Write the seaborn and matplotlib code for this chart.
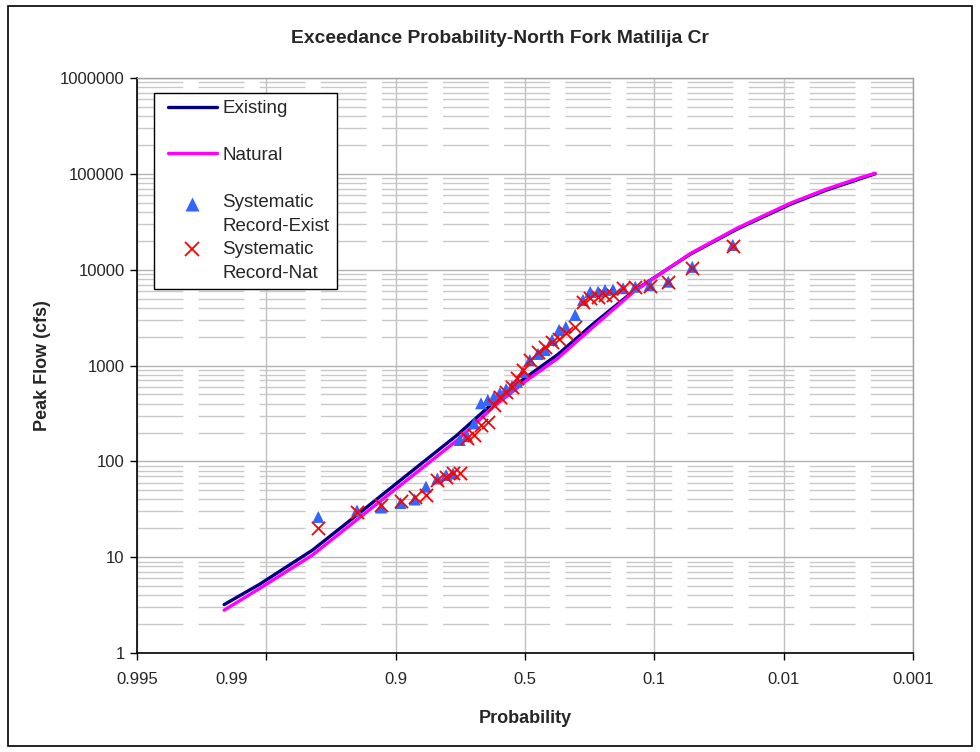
import numpy as np
import pandas as pd
import matplotlib
matplotlib.use('Agg')
import matplotlib.pyplot as plt
import seaborn as sns
from matplotlib.ticker import FixedLocator, FixedFormatter, NullFormatter, LogLocator
from matplotlib.lines import Line2D
from matplotlib.patches import Rectangle
from matplotlib.legend_handler import HandlerLine2D
from matplotlib.transforms import Affine2D
from statistics import NormalDist

# frequency curves (exceedance probability vs peak flow, cfs)
curve_prob = [0.99, 0.98, 0.95, 0.9, 0.8, 0.7, 0.6, 0.5, 0.4, 0.3, 0.2, 0.1,
              0.05, 0.02, 0.01, 0.005, 0.0034]
existing_flow = [3.2, 5.2, 11.8, 28.8, 85.8, 188, 400, 740, 1300, 2700, 6000,
                 14600, 26700, 48200, 67300, 87300, 100000]
natural_flow = [2.8, 4.7, 10.5, 25.7, 76, 166, 360, 680, 1190, 2510, 5900,
                14800, 27300, 49500, 69000, 89500, 101500]

# systematic record, plotting positions
point_prob = [0.945, 0.903, 0.867, 0.832, 0.803, 0.778, 0.751, 0.729, 0.711, 0.693,
              0.673, 0.653, 0.633, 0.613, 0.595, 0.577, 0.558, 0.540, 0.525, 0.506,
              0.485, 0.460, 0.439, 0.417, 0.396, 0.376, 0.349, 0.327, 0.307, 0.286,
              0.268, 0.248, 0.224, 0.197, 0.167, 0.134, 0.098, 0.054]
exist_obs = [26.3, 30.7, 33.0, 36.7, 40.0, 54.4, 66.2, 72.0, 74.6, 167,
             184, 249, 403, 437, 469, 516, 568, 611, 673, 855,
             1140, 1320, 1450, 1850, 2350, 2520, 3370, 4830, 5860, 5890,
             6140, 6210, 6400, 6640, 6920, 7490, 10700, 18100]
nat_obs = [20.4, 29.8, 35.0, 39.0, 42.7, 44.6, 63.9, 69.2, 75.0, 75.5,
           174, 188, 239, 259, 387, 469, 529, 601, 735, 897,
           1140, 1390, 1570, 1770, 1900, 2190, 2540, 4630, 5030, 5220,
           5440, 5500, 6400, 6640, 6700, 7490, 10300, 17700]

x_tick_labels = ['0.995', '0.99', '0.9', '0.5', '0.1', '0.01', '0.001']
y_tick_labels = ['1', '10', '100', '1000', '10000', '100000', '1000000']

sns.set_style('white')
plt.rcParams['font.family'] = ['Liberation Sans', 'DejaVu Sans']

nd = NormalDist()


def fwd(p):
    p = np.clip(np.asarray(p, dtype=float), 1e-12, 1 - 1e-12)
    return np.vectorize(nd.inv_cdf, otypes=[float])(p)


def inv(z):
    return np.vectorize(nd.cdf, otypes=[float])(np.asarray(z, dtype=float))


class ShiftedHandler(HandlerLine2D):
    # legend handle nudged to sit next to the first text line
    def __init__(self, dx, dy, **kw):
        super().__init__(**kw)
        self.dx, self.dy = dx, dy

    def create_artists(self, legend, orig_handle, xdescent, ydescent, width, height, fontsize, trans):
        arts = super().create_artists(legend, orig_handle, xdescent, ydescent, width, height, fontsize, trans)
        for a in arts:
            a.set_transform(trans + Affine2D().translate(self.dx, self.dy))
        return arts


fig, ax = plt.subplots(figsize=(9.8, 7.52), dpi=100)
fig.subplots_adjust(left=0.1398, right=0.9316, bottom=0.1316, top=0.8963)
ax.set_xscale('function', functions=(fwd, inv))
ax.set_yscale('log')

curves = pd.DataFrame({
    'prob': curve_prob * 2,
    'flow': existing_flow + natural_flow,
    'series': ['Existing'] * len(curve_prob) + ['Natural'] * len(curve_prob),
})
sns.lineplot(data=curves, x='prob', y='flow', hue='series',
             palette={'Existing': '#000080', 'Natural': '#FF00FF'},
             lw=2.4, estimator=None, sort=False, legend=False, ax=ax)
sns.scatterplot(x=point_prob, y=exist_obs, marker='^', color='#3366FF', s=75,
                edgecolor='none', ax=ax, zorder=3)
sns.scatterplot(x=point_prob, y=nat_obs, marker='x', color='#FF0000', s=90,
                linewidth=1.3, ax=ax, zorder=4)

# axes
zgrid = [3, 2, 1, 0, -1, -2, -3]
xmajor = [nd.cdf(k) for k in zgrid]
xlab_pos = [nd.cdf(3), nd.cdf(2.27), nd.cdf(1), 0.5, nd.cdf(-1), nd.cdf(-2), nd.cdf(-3)]
ax.set_xlim(xmajor[0], xmajor[-1])
ax.xaxis.remove_overlapping_locs = False
ax.xaxis.set_major_locator(FixedLocator(xmajor))
ax.xaxis.set_major_formatter(NullFormatter())
ax.xaxis.set_minor_locator(FixedLocator(xlab_pos))
ax.xaxis.set_minor_formatter(FixedFormatter(x_tick_labels))
ax.tick_params(axis='x', which='major', direction='out', length=5, width=1, color='black', bottom=True)
ax.tick_params(axis='x', which='minor', length=0, pad=14, labelsize=12)

ax.set_ylim(1, 1e6)
ax.yaxis.set_major_locator(FixedLocator([10 ** k for k in range(7)]))
ax.yaxis.set_major_formatter(FixedFormatter(y_tick_labels))
ax.yaxis.set_minor_locator(LogLocator(base=10, subs=np.arange(2, 10)))
ax.yaxis.set_minor_formatter(NullFormatter())
ax.tick_params(axis='y', which='major', direction='out', length=5, width=1, color='black',
               left=True, labelsize=12, pad=4)
ax.tick_params(axis='y', which='minor', length=0)

ax.grid(True, axis='x', which='major', color='#C0C0C0', lw=1)
ax.grid(True, axis='y', which='major', color='#B4B4B4', lw=1)
ax.grid(True, axis='y', which='minor', color='#C8C8C8', lw=1, ls=(0, (33, 11)))
ax.set_axisbelow(True)

for side in ['left', 'bottom']:
    ax.spines[side].set_color('black')
    ax.spines[side].set_linewidth(1.2)
for side in ['top', 'right']:
    ax.spines[side].set_color('#A0A0A0')
    ax.spines[side].set_linewidth(1)

ax.set_xlabel('Probability', fontsize=13, fontweight='bold', labelpad=16)
ax.set_ylabel('Peak Flow (cfs)', fontsize=13, fontweight='bold', labelpad=6)
fig.text(0.51, 0.949, 'Exceedance Probability-North Fork Matilija Cr',
         ha='center', va='center', fontsize=13.9, fontweight='bold')

handles = [
    Line2D([], [], color='#000080', lw=2.4),
    Line2D([], [], color='#FF00FF', lw=2.4),
    Line2D([], [], marker='^', ls='none', color='#3366FF', markersize=9.5, mec='none'),
    Line2D([], [], marker='x', ls='none', color='#FF0000', markersize=10, mew=1.3),
]
labels = ['Existing\n ', 'Natural\n ', 'Systematic\nRecord-Exist', 'Systematic\nRecord-Nat']
hmap = {handles[0]: ShiftedHandler(6.5, 14), handles[1]: ShiftedHandler(6.5, 14),
        handles[2]: ShiftedHandler(6.5, 10), handles[3]: ShiftedHandler(6.5, 12)}
leg = ax.legend(handles, labels, handler_map=hmap, loc='upper left',
                bbox_to_anchor=(0.022, 0.974),
                frameon=True, fancybox=False, edgecolor='black', framealpha=1,
                fontsize=13.5, handlelength=2.6, handletextpad=0.63,
                labelspacing=0.34, borderpad=0.4, borderaxespad=0)
for t in leg.get_texts():
    t.set_linespacing(1.5)
leg.get_frame().set_linewidth(1.0)

fig.patches.append(Rectangle((0.008, 0.008), 0.984, 0.984, transform=fig.transFigure,
                             fill=False, edgecolor='black', lw=1.2))

fig.savefig('out.png', dpi=100)
